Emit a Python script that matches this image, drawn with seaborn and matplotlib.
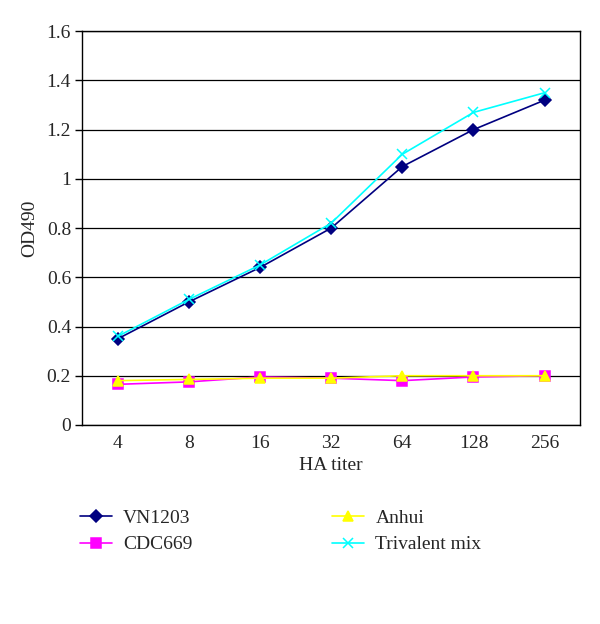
import numpy as np
import pandas as pd
import matplotlib
matplotlib.use("Agg")
import matplotlib.pyplot as plt
import seaborn as sns

titers = ["4", "8", "16", "32", "64", "128", "256"]
vn1203 = [0.35, 0.50, 0.64, 0.80, 1.05, 1.20, 1.32]
cdc669 = [0.165, 0.175, 0.195, 0.19, 0.18, 0.195, 0.20]
anhui = [0.18, 0.185, 0.19, 0.19, 0.20, 0.20, 0.20]
trivalent = [0.36, 0.51, 0.65, 0.82, 1.10, 1.27, 1.35]

sns.set_style("white")
plt.rcParams['font.family'] = ['Liberation Serif', 'DejaVu Serif']

fig = plt.figure(figsize=(6, 6.24), dpi=100)
ax = fig.add_axes([0.137, 0.319, 0.830, 0.631])

series = [
    ("VN1203", vn1203, "#000080", "D", 6.5),
    ("CDC669", cdc669, "#FF00FF", "s", 6.5),
    ("Anhui", anhui, "#FFFF00", "^", 7.5),
    ("Trivalent mix", trivalent, "#00FFFF", "x", 7.5),
]
for name, vals, col, mk, ms in series:
    df = pd.DataFrame({"titer": titers, "od": vals})
    sns.lineplot(data=df, x="titer", y="od", ax=ax, color=col, marker=mk,
                 markersize=ms, markeredgecolor=col, markeredgewidth=1.1,
                 linewidth=1.2, label=name, sort=False)

ax.set_ylim(0, 1.6)
ax.set_xlim(-0.5, 6.5)
ax.set_yticks(np.arange(0, 1.61, 0.2))
ax.set_yticklabels(["0", "0.2", "0.4", "0.6", "0.8", "1", "1.2", "1.4", "1.6"])
ax.set_xticks(range(len(titers)))
ax.set_xticklabels(titers)
ax.set_xticks(np.arange(0.5, 6, 1), minor=True)
ax.tick_params(axis="x", which="major", length=0, labelsize=14, pad=7)
ax.tick_params(axis="x", which="minor", direction="in", length=5, width=1, color="black")
ax.tick_params(axis="y", labelsize=14, length=5, width=1, direction="out",
               color="black", left=True, pad=3)
ax.yaxis.grid(True, color="black", linewidth=0.9)
ax.set_axisbelow(True)
for s in ax.spines.values():
    s.set_color("black")
    s.set_linewidth(1)
ax.set_xlabel("HA titer", fontsize=14, labelpad=4)
ax.set_ylabel("OD490", fontsize=14, labelpad=6)

handles, labels = ax.get_legend_handles_labels()
ax.get_legend().remove()
fig.legend(handles, labels, ncol=2, loc="upper left", bbox_to_anchor=(0.12, 0.196),
           frameon=False, fontsize=14, columnspacing=7.2, handlelength=1.65,
           handletextpad=0.57, labelspacing=0.45, borderaxespad=0)

fig.savefig("out.png", dpi=100, facecolor="white")
